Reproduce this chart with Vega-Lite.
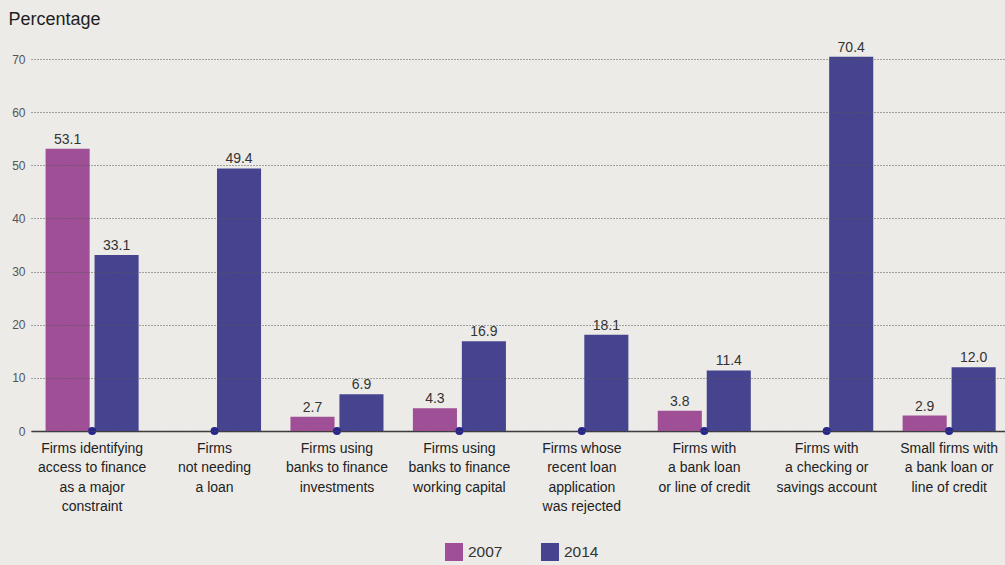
{
  "$schema": "https://vega.github.io/schema/vega-lite/v6.json",
  "width": 974,
  "height": 372,
  "autosize": {"type": "none"},
  "padding": {"left": 31, "top": 59, "right": 0, "bottom": 134},
  "background": "#ecebe8",
  "config": {
    "view": {"stroke": null},
    "font": "Liberation Sans, Arial, sans-serif"
  },
  "data": {
    "values": [
      {"cat": "Firms identifying|access to finance|as a major|constraint", "year": "2007", "value": 53.1},
      {"cat": "Firms identifying|access to finance|as a major|constraint", "year": "2014", "value": 33.1},
      {"cat": "Firms|not needing|a loan", "year": "2014", "value": 49.4},
      {"cat": "Firms using|banks to finance|investments", "year": "2007", "value": 2.7},
      {"cat": "Firms using|banks to finance|investments", "year": "2014", "value": 6.9},
      {"cat": "Firms using|banks to finance|working capital", "year": "2007", "value": 4.3},
      {"cat": "Firms using|banks to finance|working capital", "year": "2014", "value": 16.9},
      {"cat": "Firms whose|recent loan|application|was rejected", "year": "2014", "value": 18.1},
      {"cat": "Firms with|a bank loan|or line of credit", "year": "2007", "value": 3.8},
      {"cat": "Firms with|a bank loan|or line of credit", "year": "2014", "value": 11.4},
      {"cat": "Firms with|a checking or|savings account", "year": "2014", "value": 70.4},
      {"cat": "Small firms with|a bank loan or|line of credit", "year": "2007", "value": 2.9},
      {"cat": "Small firms with|a bank loan or|line of credit", "year": "2014", "value": 12.0}
    ]
  },
  "encoding": {
    "x": {
      "field": "cat",
      "type": "nominal",
      "sort": null,
      "scale": {"paddingInner": 0.24, "paddingOuter": 0.0976, "align": 0.61},
      "axis": {
        "title": null,
        "labelAngle": 0,
        "labelExpr": "split(datum.label, '|')",
        "labelFontSize": 14,
        "labelColor": "#222222",
        "labelLineHeight": 19.5,
        "labelBaseline": "top",
        "labelPadding": 10,
        "ticks": false,
        "domainColor": "#333333",
        "domainWidth": 1.5,
        "zindex": 0
      }
    }
  },
  "layer": [
    {
      "mark": {"type": "bar"},
      "encoding": {
        "xOffset": {"field": "year", "type": "nominal", "scale": {"domain": ["2007", "2014"], "paddingInner": 0.1, "paddingOuter": 0}},
        "y": {
          "field": "value",
          "type": "quantitative",
          "scale": {"domain": [0, 70], "nice": false},
          "axis": {
            "title": "Percentage",
            "titleAngle": 0,
            "titleX": -23,
            "titleY": -35,
            "titleAlign": "left",
            "titleBaseline": "alphabetic",
            "titleFontSize": 18,
            "titleFontWeight": "normal",
            "titleColor": "#1e1e1e",
            "values": [0, 10, 20, 30, 40, 50, 60, 70],
            "labelFontSize": 12,
            "labelColor": "#555555",
            "labelPadding": 6,
            "ticks": false,
            "domain": false,
            "grid": true,
            "gridColor": "#555555",
            "gridDash": [1, 2],
            "gridWidth": 1,
            "zindex": 1
          }
        },
        "color": {
          "field": "year",
          "type": "nominal",
          "scale": {"domain": ["2007", "2014"], "range": ["#9f4f96", "#46448f"]},
          "legend": {
            "title": null,
            "orient": "none",
            "legendX": 414,
            "legendY": 484,
            "direction": "horizontal",
            "symbolType": "square",
            "symbolSize": 324,
            "symbolStrokeWidth": 0,
            "labelFontSize": 15.5,
            "labelColor": "#333333",
            "labelOffset": 5,
            "columnPadding": 38
          }
        }
      }
    },
    {
      "mark": {"type": "text", "baseline": "alphabetic", "dy": -5, "fontSize": 14, "color": "#333333"},
      "encoding": {
        "xOffset": {"field": "year", "type": "nominal", "scale": {"domain": ["2007", "2014"], "paddingInner": 0.1, "paddingOuter": 0}},
        "y": {"field": "value", "type": "quantitative"},
        "text": {"field": "value", "type": "quantitative", "format": ".1f"}
      }
    },
    {
      "transform": [{"filter": "datum.year == '2014'"}],
      "mark": {"type": "point", "filled": true, "size": 64, "color": "#27268a", "opacity": 1},
      "encoding": {
        "y": {"datum": 0}
      }
    }
  ]
}
